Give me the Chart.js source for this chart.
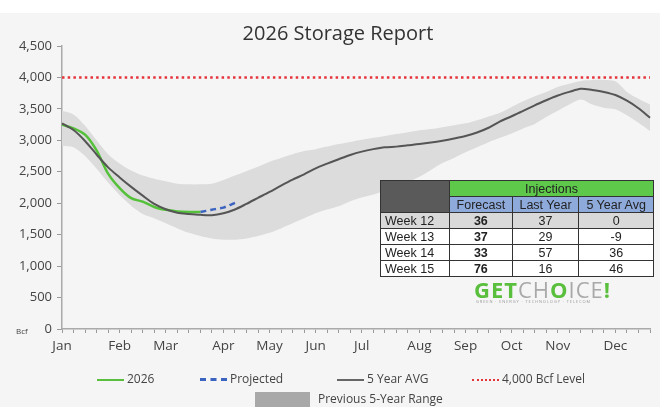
<!DOCTYPE html>
<html>
<head>
<meta charset="utf-8">
<script src="https://cdn.jsdelivr.net/npm/chart.js@4.4.1/dist/chart.umd.min.js"></script>
<style>
  body { margin: 0; background: #fff; font-family: "Open Sans", sans-serif; }
  #wrap { position: relative; width: 667px; height: 407px; }
  #bg { position: absolute; left: 0; top: 13px; width: 660px; height: 394px; background: #f5f5f5; }
  canvas { position: absolute; left: 0; top: 0; }
  .abs { position: absolute; }
  #title { left: 0; width: 676px; top: 20px; text-align: center; font-size: 20px; color: #333; line-height: 26px; }
  #bcf { left: 16px; top: 325px; font-size: 8px; color: #444; }
  .leg { font-size: 12px; color: #444; white-space: nowrap; }
  .sw { display: inline-block; width: 27px; vertical-align: middle; margin-right: 3px; }
  table { border-collapse: collapse; font-family: "Liberation Sans", sans-serif; font-size: 12.5px; }
  td { border: 1px solid #333; height: 15px; padding: 0 4px; text-align: center; color: #222; }
  .logo { font-family: "Open Sans", sans-serif; font-size: 22px; letter-spacing: 1px; line-height: 24px; }
</style>
</head>
<body>
<div id="wrap">
  <div id="bg"></div>
  <canvas id="chart" width="667" height="407"></canvas>
  <div id="title" class="abs">2026 Storage Report</div>
  <div id="bcf" class="abs">Bcf</div>

  <table id="inj" class="abs" style="left:380px; top:180px; width:274px;">
    <tr><td rowspan="2" style="background:#5a5a5a; width:60px;"></td>
        <td colspan="3" style="background:#5dc84a;">Injections</td></tr>
    <tr id="headRow"></tr>
  </table>

  <div class="abs logo" style="left:474px; top:277px;">
    <b style="color:#5bbf3e;">GET</b><span style="color:#a9a9a9;">CH</span><b style="color:#5bbf3e;">O</b><span style="color:#a9a9a9;">ICE</span><b style="color:#5bbf3e;">!</b>
  </div>
  <div class="abs" style="left:476px; top:299px; font-size:4px; color:#999; letter-spacing:0.9px;">GREEN · ENERGY · TECHNOLOGY · TELECOM</div>

  <div class="abs leg" style="left:97px; top:370px;"><span class="sw" style="border-top:2.5px solid #5bbf3e;"></span>2026</div>
  <div class="abs leg" style="left:200px; top:370px;"><span class="sw" style="border-top:3px dashed #3a64c0;"></span>Projected</div>
  <div class="abs leg" style="left:337px; top:370px;"><span class="sw" style="border-top:2.5px solid #666;"></span>5 Year AVG</div>
  <div class="abs leg" style="left:472px; top:370px;"><span class="sw" style="border-top:2.5px dotted #e5333a;"></span>4,000 Bcf Level</div>
  <div class="abs leg" style="left:255px; top:390px;"><span class="sw" style="width:55px; height:15px; background:#a8a8a8; margin-right:8px;"></span>Previous 5-Year Range</div>
</div>

<script>
// weekly points, month name on the first week of each month
const months = {0:'Jan', 5:'Feb', 9:'Mar', 14:'Apr', 18:'May', 22:'Jun', 26:'Jul', 31:'Aug', 35:'Sep', 39:'Oct', 43:'Nov', 48:'Dec'};
const weeks = [];
for (let i = 0; i < 52; i++) weeks.push(months[i] || '');

const avg5 = [3270,3165,2990,2775,2570,2410,2260,2120,1990,1905,1850,1830,1815,1810,1840,1900,1990,2085,2180,2280,
              2375,2460,2555,2630,2700,2767,2820,2860,2890,2900,2920,2940,2965,2995,3030,3070,3125,3200,3300,3383,
              3467,3557,3637,3712,3770,3820,3800,3770,3720,3630,3510,3360];
const rangeHi = [3470,3410,3230,3000,2780,2630,2520,2440,2390,2350,2310,2300,2300,2310,2370,2440,2510,2580,2660,2720,
                 2780,2830,2860,2900,2940,2975,3010,3040,3070,3100,3130,3160,3180,3210,3240,3270,3320,3380,3440,3530,
                 3620,3700,3770,3850,3900,3945,3960,3960,3940,3770,3660,3570];
const rangeLo = [2910,2890,2750,2550,2330,2130,1960,1830,1760,1680,1600,1530,1480,1440,1420,1420,1440,1480,1530,1600,
                 1680,1760,1840,1900,1950,2030,2090,2140,2200,2270,2340,2420,2530,2640,2720,2810,2890,2970,3040,3110,
                 3190,3260,3370,3470,3570,3650,3570,3520,3495,3400,3280,3150];
const y2026 = [3250,3190,3090,2840,2470,2240,2080,2025,1940,1895,1870,1860,1860];
const projected = [null,null,null,null,null,null,null,null,null,null,null,null,1860,1897,1930,2006];
const level = 4000;

// injections table
const tableWeeks = ['Week 12', 'Week 13', 'Week 14', 'Week 15'];
const forecast = [36, 37, 33, 76];
const lastYear = [37, 29, 57, 16];
const fiveYearAvg = [0, -9, 36, 46];
const tableHeads = ['Forecast', 'Last Year', '5 Year Avg'];

const head = document.getElementById('headRow');
tableHeads.forEach(h => {
  const td = document.createElement('td');
  td.textContent = h;
  td.style.background = '#8eaadb';
  head.appendChild(td);
});
const tbl = document.getElementById('inj');
tableWeeks.forEach((w, i) => {
  const tr = document.createElement('tr');
  tr.style.background = i == 0 ? '#d9d9d9' : '#fff';
  tr.innerHTML = '<td style="text-align:left">' + w + '</td><td><b>' + forecast[i] + '</b></td><td>' +
                 lastYear[i] + '</td><td>' + fiveYearAvg[i] + '</td>';
  tbl.appendChild(tr);
});

const font = "'Open Sans', sans-serif";

new Chart(document.getElementById('chart'), {
  type: 'line',
  data: {
    labels: weeks,
    datasets: [
      { label: 'lo', data: rangeLo, borderWidth: 0, pointRadius: 0, fill: false, tension: 0.3 },
      { label: 'Previous 5-Year Range', data: rangeHi, borderWidth: 0, pointRadius: 0,
        fill: '-1', backgroundColor: '#dcdcdc', tension: 0.3 },
      { label: '5 Year AVG', data: avg5, borderColor: '#555', borderWidth: 2, pointRadius: 0, tension: 0.3 },
      { label: '2026', data: y2026, borderColor: '#55c13a', borderWidth: 2.5, pointRadius: 0, tension: 0.3 },
      { label: 'Projected', data: projected, borderColor: '#3a64c0', borderWidth: 2.5, borderDash: [6, 4],
        pointRadius: 0, tension: 0.2 },
      { label: '4,000 Bcf Level', data: weeks.map(() => level), borderColor: '#e5333a', borderWidth: 2.5,
        borderDash: [2.5, 3.2], pointRadius: 0 }
    ]
  },
  options: {
    responsive: false,
    animation: false,
    layout: { padding: { left: 0, right: 17, top: 46, bottom: 0 } },
    plugins: {
      legend: { display: false },
      tooltip: { enabled: false },
      filler: { drawTime: 'beforeDatasetsDraw' },
      title: { display: false }
    },
    scales: {
      x: {
        grid: { drawOnChartArea: false, tickLength: 4, color: '#999' },
        border: { color: '#aaa', width: 1.5 },
        ticks: { autoSkip: false, maxRotation: 0, color: '#444', padding: 5, font: { family: font, size: 13.5 } },
        afterFit: s => { s.height = 78; }
      },
      y: {
        min: 0, max: 4500,
        grid: { drawOnChartArea: false, tickLength: 5, color: '#999' },
        border: { color: '#aaa', width: 1.5 },
        ticks: { stepSize: 500, color: '#444', padding: 5, font: { family: font, size: 13 },
                 callback: v => v.toLocaleString('en-US') },
        afterFit: s => { s.width = 62; }
      }
    }
  }
});
</script>
</body>
</html>
